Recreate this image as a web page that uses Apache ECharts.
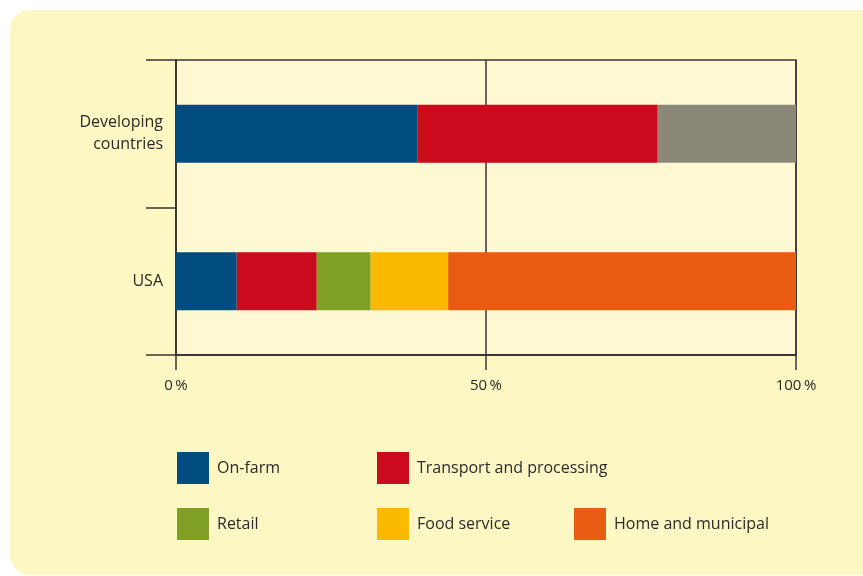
<!DOCTYPE html>
<html>
<head>
<meta charset="utf-8">
<script src="https://cdn.jsdelivr.net/npm/echarts@6/dist/echarts.min.js"></script>
<style>
html,body{margin:0;padding:0;background:#ffffff;}
#chart{width:863px;height:576px;}
</style>
</head>
<body>
<div id="chart"></div>
<script>
var categories = ['Developing\ncountries', 'USA'];
var onFarm = [38.9, 9.8];
var transportProcessing = [38.8, 12.9];
var retail = [0, 8.7];
var foodService = [0, 12.5];
var homeMunicipal = [0, 56.1];
var other = [22.3, 0];
var xTicks = [0, 50, 100];

var FONT = '"Open Sans", "Noto Sans", sans-serif';
var TXT = '#2b2b2b';

var seriesDefs = [
  {name: 'On-farm', data: onFarm, color: '#004c7f'},
  {name: 'Transport and processing', data: transportProcessing, color: '#cc0a1e'},
  {name: 'Retail', data: retail, color: '#7f9f25'},
  {name: 'Food service', data: foodService, color: '#fbba00'},
  {name: 'Home and municipal', data: homeMunicipal, color: '#e85b12'},
  {name: 'Other', data: other, color: '#8b8878'}
];

var legendPos = [
  {name: 'On-farm', left: 177, top: 452},
  {name: 'Transport and processing', left: 377, top: 452},
  {name: 'Retail', left: 177, top: 508},
  {name: 'Food service', left: 377, top: 508},
  {name: 'Home and municipal', left: 574, top: 508}
];

var chart = echarts.init(document.getElementById('chart'));
chart.setOption({
  backgroundColor: '#ffffff',
  animation: false,
  graphic: [{
    type: 'rect', z: -10, silent: true,
    shape: {x: 10, y: 10, width: 880, height: 565, r: 20},
    style: {fill: '#fdf8c3'}
  }],
  grid: {
    left: 176, right: 67, top: 60, bottom: 221,
    show: true, backgroundColor: '#fef8d3',
    borderColor: '#3a3632', borderWidth: 1.5
  },
  legend: legendPos.map(function (p) {
    return {
      data: [p.name], left: p.left, top: p.top, padding: 0,
      icon: 'rect', itemWidth: 32, itemHeight: 32, selectedMode: false,
      textStyle: {fontFamily: FONT, fontSize: 16, color: TXT, padding: [0, 0, 0, 3]}
    };
  }),
  xAxis: {
    type: 'value', min: 0, max: 100, interval: 50,
    axisLine: {show: true, lineStyle: {color: '#3a3632', width: 2}},
    axisTick: {show: true, length: 15, lineStyle: {color: '#3a3632', width: 1.5}},
    splitLine: {show: true, lineStyle: {color: '#3a3632', width: 1.5}},
    axisLabel: {
      margin: 23, fontFamily: FONT, fontSize: 15, color: TXT,
      formatter: function (v) { return xTicks.indexOf(v) >= 0 ? v + '\u2009%' : ''; }
    }
  },
  yAxis: {
    type: 'category', data: categories, inverse: true,
    axisLine: {show: true, lineStyle: {color: '#3a3632', width: 1.5}},
    axisTick: {show: true, length: 30, lineStyle: {color: '#3a3632', width: 1.5}},
    axisLabel: {margin: 13, fontFamily: FONT, fontSize: 16, color: TXT, lineHeight: 22, align: 'right', padding: [6, 0, 0, 0]}
  },
  series: seriesDefs.map(function (s) {
    return {
      name: s.name, type: 'bar', stack: 'total', data: s.data,
      barWidth: 58, itemStyle: {color: s.color}, silent: true
    };
  })
});
</script>
</body>
</html>
